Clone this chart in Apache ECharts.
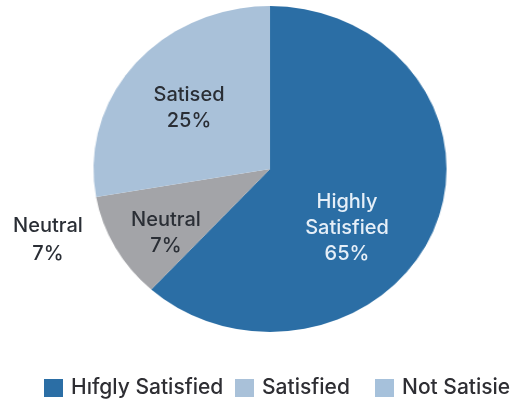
<!DOCTYPE html>
<html>
<head>
<meta charset="utf-8">
<script src="https://cdn.jsdelivr.net/npm/echarts@6/dist/echarts.min.js"></script>
<style>
html,body{margin:0;padding:0;background:#fff;width:512px;height:402px;overflow:hidden;}
#pie{position:absolute;left:0;top:0;width:512px;height:402px;transform:scaleX(1.083);transform-origin:270px 169px;}
#over{position:absolute;left:0;top:0;width:512px;height:402px;}
</style>
</head>
<body>
<div id="pie"></div>
<div id="over"></div>
<script>
// ---- data ----
const sliceNames = ['Highly Satisfied', 'Neutral', 'Satisfied'];
const sliceValues = [61.75, 10.5, 27.75];           // slice sizes as drawn
const sliceLabelNames = ['Highly\nSatisfied', 'Neutral', 'Satised'];
const sliceLabelPcts = ['65%', '7%', '25%'];
const outsideLabel = ['Neutral', '7%'];
const legendNames = ['Hıfgly Satisfied', 'Satisfied', 'Not Satisie'];

// ---- styles / layout ----
const sliceColors = ['#2B6EA5', '#A3A4A8', '#A9C1D9'];
const sliceTextColors = ['#E6EFF8', '#2A2E35', '#2A2E35'];
const legendColors = ['#2B6EA5', '#A9C1D9', '#A6C1DB'];
const labelAnchors = [[347, 228], [166, 233], [189, 108]];
const legendLefts = [44, 235, 375];
const FONT = 'Inter, "Liberation Sans", Arial, sans-serif';

const center = [270, 169];
const radius = 163;

const pieData = sliceNames.map((n, i) => ({name: n, value: sliceValues[i], itemStyle: {color: sliceColors[i]}}));

// stretched pie (slices only)
const c1 = echarts.init(document.getElementById('pie'), null, {renderer: 'canvas'});
c1.setOption({
  animation: false,
  series: [{
    type: 'pie', center: center, radius: radius, startAngle: 90, clockwise: true,
    silent: true, label: {show: false}, labelLine: {show: false},
    itemStyle: {borderWidth: 0},
    data: pieData
  }]
});

// overlay: labels + legend
const c2 = echarts.init(document.getElementById('over'), null, {renderer: 'canvas'});
c2.setOption({
  animation: false,
  backgroundColor: 'transparent',
  legend: legendNames.map((n, i) => ({
    data: [{name: n, itemStyle: {color: legendColors[i], opacity: 1}}],
    left: legendLefts[i], top: 376, padding: 0,
    icon: 'rect', itemWidth: 19, itemHeight: 18, selectedMode: false,
    textStyle: {fontFamily: FONT, fontSize: 21, fontWeight: 500, color: '#2E2E33', lineHeight: 24, padding: [0, 0, 0, 3]}
  })),
  series: [{
    type: 'pie', center: center, radius: radius, startAngle: 90, clockwise: true, silent: true,
    itemStyle: {color: 'rgba(0,0,0,0)'},
    labelLine: {show: false},
    label: {
      show: true, position: 'inside', fontFamily: FONT, fontSize: 20, fontWeight: 500, lineHeight: 26,
      formatter: p => sliceLabelNames[p.dataIndex] + '\n' + sliceLabelPcts[p.dataIndex]
    },
    labelLayout: p => ({x: labelAnchors[p.dataIndex][0], y: labelAnchors[p.dataIndex][1], align: 'center', verticalAlign: 'middle'}),
    data: sliceNames.map((n, i) => ({name: n + ' ', value: sliceValues[i], label: {color: sliceTextColors[i]}}))
  }, {
    type: 'pie', center: [-100, -100], radius: [0, 0], silent: true,
    label: {show: false}, labelLine: {show: false},
    data: legendNames.map((n, i) => ({name: n, value: 1, itemStyle: {color: legendColors[i]}}))
  }],
  graphic: [{
    type: 'text', x: 48, y: 240,
    style: {text: outsideLabel.join('\n'), align: 'center', verticalAlign: 'middle',
      font: '500 20px ' + FONT, lineHeight: 28, fill: '#2A2E35'}
  }]
});
</script>
</body>
</html>
